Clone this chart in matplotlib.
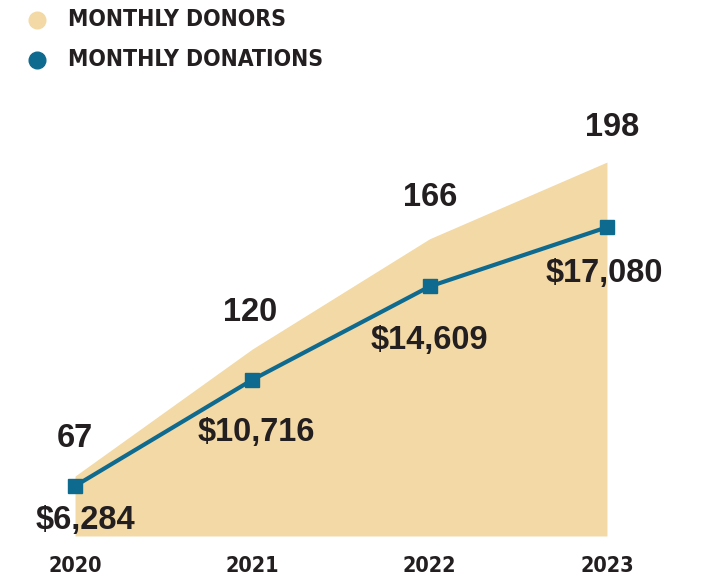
import matplotlib.pyplot as plt
from matplotlib.lines import Line2D
from matplotlib import font_manager as fm

years = [2020, 2021, 2022, 2023]
donors = [67, 120, 166, 198]
donations = [6284, 10716, 14609, 17080]
donation_labels = ['$6,284', '$10,716', '$14,609', '$17,080']

sand = '#f3d9a5'
blue = '#0f6a8f'
ink = '#231f20'

# look for a condensed bold face for the legend and the years
narrow = None
for fam, st in [('Liberation Sans Narrow', 'normal'), ('DejaVu Sans', 'condensed'),
                ('Roboto Condensed', 'normal')]:
    try:
        f = fm.findfont(fm.FontProperties(family=fam, stretch=st, weight='bold'),
                        fallback_to_default=False)
    except Exception:
        continue
    if 'Narrow' in f or 'Condensed' in f:
        narrow = dict(family=fam, stretch=st)
        break

if narrow:
    leg_kw = dict(fontsize=16.5, **narrow)
    year_kw = dict(fontsize=15.5, **narrow)
else:
    leg_kw = dict(fontsize=14.5, family='Liberation Sans', stretch='normal')
    year_kw = dict(fontsize=14, family='Liberation Sans', stretch='normal')

fig = plt.figure(figsize=(7.02, 5.82), dpi=100)
ax = fig.add_axes([0, 0, 1, 1])
ax2 = ax.twinx()

# donors area on the left scale, donations line on the right one (x100)
ax.fill_between(years, 42, donors, color=sand, lw=0)
ax2.plot(years, donations, color=blue, lw=3, marker='s', ms=9.5, zorder=3)

ax.set_xlim(2019.577, 2023.536)
ax.set_ylim(22.8, 265.6)
ax2.set_ylim(2280, 26560)

for a in (ax, ax2):
    a.axis('off')

top_offs = [(0, 38), (-2, 37), (0, 41), (5, 35)]
for x, v, o in zip(years, donors, top_offs):
    ax.annotate(str(v), (x, v), xytext=o, textcoords='offset pixels',
                ha='center', va='center', fontsize=23.5, fontweight='bold',
                color=ink, family='Liberation Sans')

offs = [(10, 34), (4, 53), (0, 54), (-3, 46)]
for x, v, s, o in zip(years, donations, donation_labels, offs):
    ax2.annotate(s, (x, v), xytext=(o[0], -o[1]), textcoords='offset pixels',
                 ha='center', va='center', fontsize=23.5, fontweight='bold',
                 color=ink, family='Liberation Sans')

for x in years:
    ax.text(x, 22.8 + (582 - 566) / 2.397, str(x), ha='center', va='center',
            fontweight='bold', color=ink, **year_kw)

# legend
for yy, c, txt in [(0.966, sand, 'MONTHLY DONORS'), (0.897, blue, 'MONTHLY DONATIONS')]:
    fig.add_artist(Line2D([0.053], [yy], marker='o', ms=12, color=c,
                          transform=fig.transFigure))
    fig.text(0.097, yy, txt, ha='left', va='center',
             fontweight='bold', color=ink, **leg_kw)

fig.savefig('out.png', dpi=100)
